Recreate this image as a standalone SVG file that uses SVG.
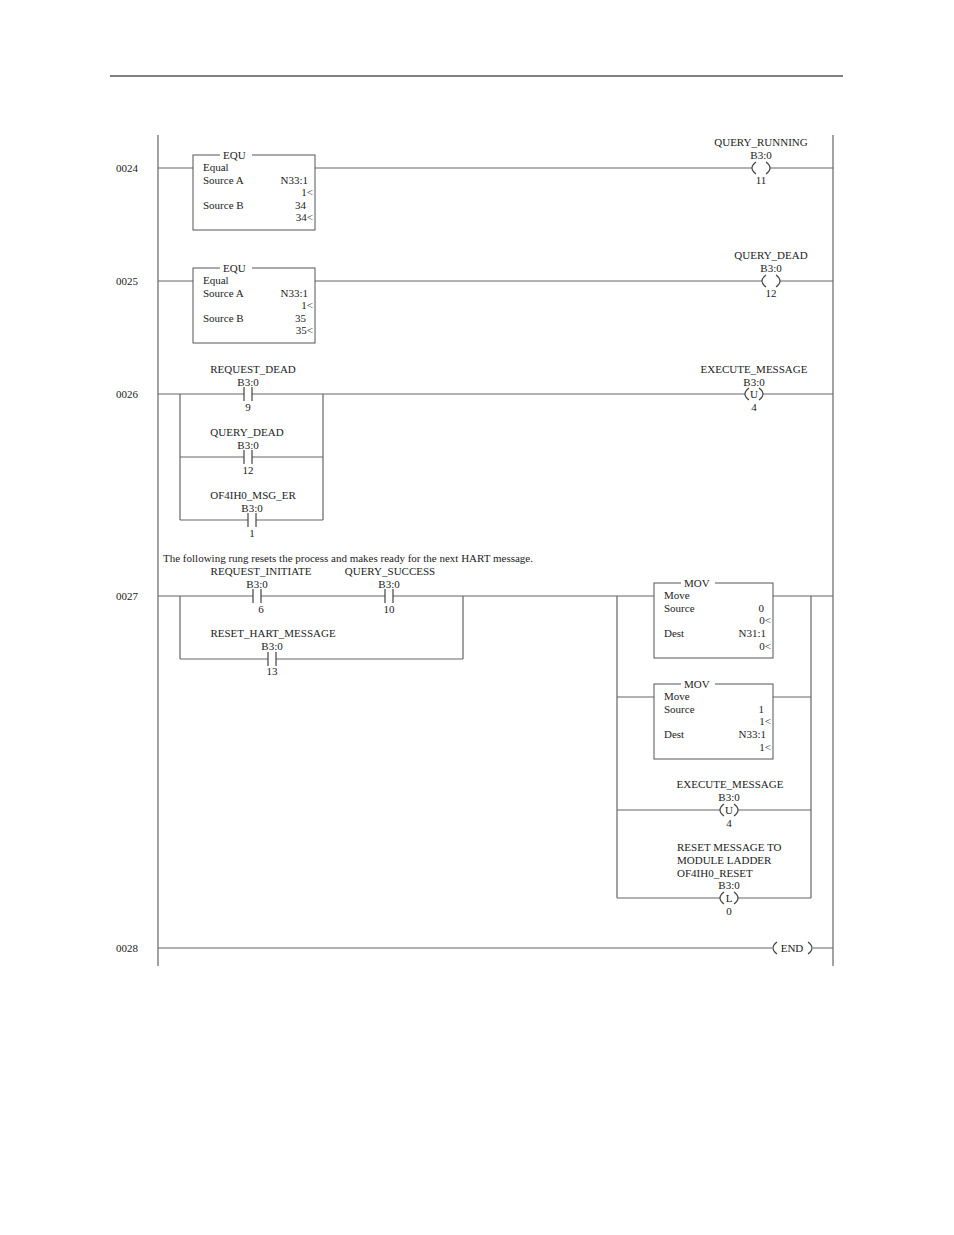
<svg xmlns="http://www.w3.org/2000/svg" width="954" height="1235" viewBox="0 0 954 1235">
<style>
text{font-family:"Liberation Serif","Times New Roman","DejaVu Serif",serif;font-size:11px;fill:#222}
.c{text-anchor:middle}
.r{text-anchor:end}
.w{stroke:#666;stroke-width:1.2;fill:none}
.b{stroke:#555;stroke-width:1;fill:#fff}
</style>
<rect width="954" height="1235" fill="#fff"/>
<line x1="110" y1="76" x2="843" y2="76" stroke="#000" stroke-width="1"/>
<g id="wires" class="w">
<line x1="158" y1="135" x2="158" y2="966"/>
<line x1="833" y1="135" x2="833" y2="966"/>
<path d="M158 168H193M315 168H752M770 168H833"/>
<path d="M158 281H193M315 281H762M780 281H833"/>
<path d="M158 394H244M252 394H745M763 394H833"/>
<path d="M180 394V520M323 394V520M180 457H244M252 457H323M180 520H248M256 520H323"/>
<path d="M158 596H253M261 596H385M393 596H617M180 596V659M463 596V659M180 659H268M276 659H463"/>
<path d="M617 596V898M811 596V898M617 596H654M773 596H833M617 697H654M773 697H811M617 810H720M738 810H811M617 898H720M738 898H811"/>
<path d="M158 948H772M813 948H833"/>
</g>
<g fill="none" stroke="#444" stroke-width="1.2">
<path d="M244 387V401M252 387V401M244 450V464M252 450V464M248 513V527M256 513V527M253 589V603M261 589V603M385 589V603M393 589V603M268 652V666M276 652V666"/>
<path d="M756 162Q748 168 756 174M766 162Q774 168 766 174"/>
<path d="M766 275Q758 281 766 287M776 275Q784 281 776 287"/>
<path d="M749 388Q741 394 749 400M759 388Q767 394 759 400"/>
<path d="M724 804Q716 810 724 816M734 804Q742 810 734 816"/>
<path d="M724 892Q716 898 724 904M734 892Q742 898 734 904"/>
<path d="M777 942Q769 948 777 954M808 942Q816 948 808 954"/>
</g>
<text x="116" y="172">0024</text><text x="116" y="285">0025</text><text x="116" y="398">0026</text><text x="116" y="600">0027</text><text x="116" y="952">0028</text>
<g id="equ1"><rect class="b" x="193" y="155" width="122" height="75"/><rect x="220" y="150" width="32" height="10" fill="#fff"/>
<text x="223" y="159">EQU</text><text x="203" y="171">Equal</text><text x="203" y="184">Source A</text><text class="r" x="308" y="184">N33:1</text><text class="r" x="313" y="196">1&lt;</text><text x="203" y="209">Source B</text><text class="r" x="306" y="209">34</text><text class="r" x="313" y="221">34&lt;</text></g>
<g id="equ2"><rect class="b" x="193" y="268" width="122" height="75"/><rect x="220" y="263" width="32" height="10" fill="#fff"/>
<text x="223" y="272">EQU</text><text x="203" y="284">Equal</text><text x="203" y="297">Source A</text><text class="r" x="308" y="297">N33:1</text><text class="r" x="313" y="309">1&lt;</text><text x="203" y="322">Source B</text><text class="r" x="306" y="322">35</text><text class="r" x="313" y="334">35&lt;</text></g>
<g id="coil1"><text class="c" x="761" y="146">QUERY_RUNNING</text><text class="c" x="761" y="159">B3:0</text><text class="c" x="761" y="184">11</text></g>
<g id="coil2"><text class="c" x="771" y="259">QUERY_DEAD</text><text class="c" x="771" y="272">B3:0</text><text class="c" x="771" y="297">12</text></g>
<g id="coil3"><text class="c" x="754" y="373">EXECUTE_MESSAGE</text><text class="c" x="754" y="386">B3:0</text><text class="c" x="754" y="398">U</text><text class="c" x="754" y="411">4</text></g>
<g id="c1"><text class="c" x="253" y="373">REQUEST_DEAD</text><text class="c" x="248" y="386">B3:0</text><text class="c" x="248" y="411">9</text></g>
<g id="c2"><text class="c" x="247" y="436">QUERY_DEAD</text><text class="c" x="248" y="449">B3:0</text><text class="c" x="248" y="474">12</text></g>
<g id="c3"><text class="c" x="253" y="499">OF4IH0_MSG_ER</text><text class="c" x="252" y="512">B3:0</text><text class="c" x="252" y="537">1</text></g>
<text x="163" y="562">The following rung resets the process and makes ready for the next HART message.</text>
<g id="c4"><text class="c" x="261" y="575">REQUEST_INITIATE</text><text class="c" x="257" y="588">B3:0</text><text class="c" x="261" y="613">6</text></g>
<g id="c5"><text class="c" x="390" y="575">QUERY_SUCCESS</text><text class="c" x="389" y="588">B3:0</text><text class="c" x="389" y="613">10</text></g>
<g id="c6"><text class="c" x="273" y="637">RESET_HART_MESSAGE</text><text class="c" x="272" y="650">B3:0</text><text class="c" x="272" y="675">13</text></g>
<g id="mov1"><rect class="b" x="654" y="583" width="119" height="75"/><rect x="681" y="578" width="34" height="10" fill="#fff"/>
<text x="684" y="587">MOV</text><text x="664" y="599">Move</text><text x="664" y="612">Source</text><text class="r" x="764" y="612">0</text><text class="r" x="771" y="624">0&lt;</text><text x="664" y="637">Dest</text><text class="r" x="766" y="637">N31:1</text><text class="r" x="771" y="650">0&lt;</text></g>
<g id="mov2"><rect class="b" x="654" y="684" width="119" height="75"/><rect x="681" y="679" width="34" height="10" fill="#fff"/>
<text x="684" y="688">MOV</text><text x="664" y="700">Move</text><text x="664" y="713">Source</text><text class="r" x="764" y="713">1</text><text class="r" x="771" y="725">1&lt;</text><text x="664" y="738">Dest</text><text class="r" x="766" y="738">N33:1</text><text class="r" x="771" y="751">1&lt;</text></g>
<g id="coil4"><text class="c" x="730" y="788">EXECUTE_MESSAGE</text><text class="c" x="729" y="801">B3:0</text><text class="c" x="729" y="814">U</text><text class="c" x="729" y="827">4</text></g>
<g id="coil5"><text x="677" y="851">RESET MESSAGE TO</text><text x="677" y="864">MODULE LADDER</text><text x="677" y="877">OF4IH0_RESET</text><text class="c" x="729" y="889">B3:0</text><text class="c" x="729" y="902">L</text><text class="c" x="729" y="915">0</text></g>
<g id="end"><text class="c" x="792" y="952">END</text></g>
</svg>
